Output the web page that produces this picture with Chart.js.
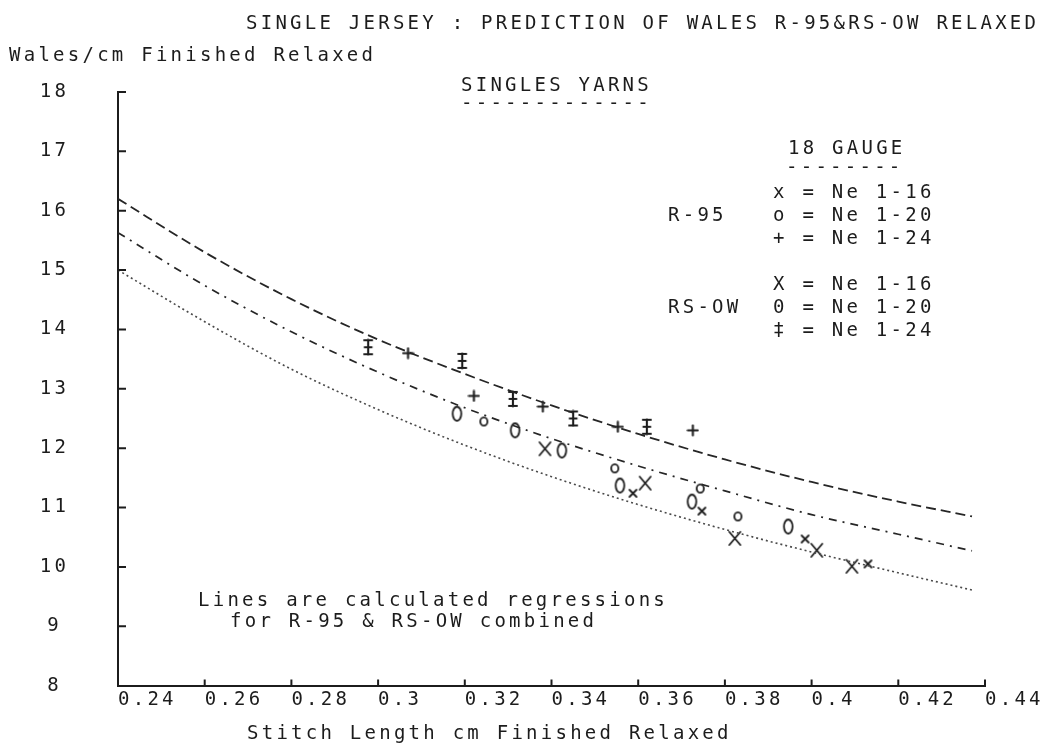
<!DOCTYPE html>
<html>
<head>
<meta charset="utf-8">
<title>Single Jersey wales prediction</title>
<script src="https://cdn.jsdelivr.net/npm/chart.js@4.4.1/dist/chart.umd.min.js"></script>
<style>
  html, body { margin: 0; padding: 0; background: #fff; }
  #wrap { width: 1045px; height: 749px; }
</style>
</head>
<body>
<div id="wrap"><canvas id="walesChart" width="1045" height="749"></canvas></div>
<script>
// axis ticks
var xTicks = [0.24, 0.26, 0.28, 0.30, 0.32, 0.34, 0.36, 0.38, 0.40, 0.42, 0.44];
var xTickLabels = ['0.24', '0.26', '0.28', '0.3', '0.32', '0.34', '0.36', '0.38', '0.4', '0.42', '0.44'];
var yTicks = [8, 9, 10, 11, 12, 13, 14, 15, 16, 17, 18];
var yTickLabels = ['8', '9', '10', '11', '12', '13', '14', '15', '16', '17', '18'];

// regression lines (R-95 & RS-OW combined)
var regX       = [0.24, 0.26, 0.28, 0.30, 0.32, 0.34, 0.36, 0.38, 0.40, 0.42, 0.437];
var regUpper   = [16.20, 15.30, 14.51, 13.83, 13.25, 12.72, 12.24, 11.81, 11.43, 11.10, 10.85];
var regMiddle  = [15.63, 14.74, 13.96, 13.28, 12.68, 12.16, 11.70, 11.28, 10.88, 10.55, 10.27];
var regLower   = [15.00, 14.13, 13.33, 12.65, 12.05, 11.52, 11.05, 10.63, 10.25, 9.90, 9.61];

// R-95 measurements
var r95Ne16X = [0.3588, 0.3747, 0.3985, 0.4130];
var r95Ne16Y = [11.24, 10.94, 10.47, 10.05];
var r95Ne20X = [0.3244, 0.3546, 0.3743, 0.3830];
var r95Ne20Y = [12.45, 11.66, 11.32, 10.85];
var r95Ne24X = [0.3069, 0.3221, 0.3380, 0.3553, 0.3726];
var r95Ne24Y = [13.60, 12.88, 12.70, 12.36, 12.30];

// RS-OW measurements
var rsNe16X = [0.3385, 0.3616, 0.3823, 0.4012, 0.4093];
var rsNe16Y = [11.99, 11.41, 10.48, 10.28, 10.01];
var rsNe20X = [0.3182, 0.3316, 0.3424, 0.3558, 0.3724, 0.3946];
var rsNe20Y = [12.58, 12.30, 11.96, 11.37, 11.10, 10.68];
var rsNe24X = [0.2977, 0.3194, 0.3311, 0.3450, 0.3620];
var rsNe24Y = [13.70, 13.47, 12.83, 12.50, 12.36];

var INK = '#1c1c1c';
var FAMILY = '"DejaVu Sans Mono", "Liberation Mono", monospace';
var FONT_SIZE = 19;
var LETTER_GAP = '3.25px';

function pairs(xs, ys){
    return xs.map(function(x, i){ return {x: x, y: ys[i]}; });
}

// plotter style symbols
function marker(w, h, draw){
    var c = document.createElement('canvas');
    c.width = w; c.height = h;
    var g = c.getContext('2d');
    g.strokeStyle = INK;
    g.lineWidth = 1.8;
    g.lineCap = 'round';
    draw(g, w, h);
    return c;
}
var smallX = marker(11, 11, function(g){
    g.beginPath(); g.moveTo(2, 2); g.lineTo(9, 9); g.moveTo(9, 2); g.lineTo(2, 9); g.stroke();
});
var bigX = marker(15, 17, function(g){
    g.beginPath(); g.moveTo(2, 2); g.lineTo(13, 15); g.moveTo(13, 2); g.lineTo(2, 15); g.stroke();
});
var smallO = marker(11, 12, function(g){
    g.beginPath(); g.ellipse(5.5, 6, 3.6, 4.2, 0, 0, Math.PI * 2); g.stroke();
});
var bigO = marker(13, 18, function(g){
    g.beginPath(); g.ellipse(6.5, 9, 4.3, 7, 0, 0, Math.PI * 2); g.stroke();
});
var plus = marker(13, 13, function(g){
    g.lineWidth = 2.1;
    g.beginPath(); g.moveTo(6.5, 1.5); g.lineTo(6.5, 11.5); g.moveTo(1.5, 6.5); g.lineTo(11.5, 6.5); g.stroke();
});
var dagger = marker(12, 18, function(g){
    g.lineWidth = 2.1;
    g.beginPath();
    g.moveTo(6, 1.5); g.lineTo(6, 16.5);
    g.moveTo(2, 2); g.lineTo(10, 2);
    g.moveTo(2.5, 9); g.lineTo(9.5, 9);
    g.moveTo(2, 16); g.lineTo(10, 16);
    g.stroke();
});

// text blocks around the plot
var notes = [
    {text: 'SINGLE JERSEY : PREDICTION OF WALES R-95&RS-OW RELAXED', x: 246, y: 24},
    {text: 'Wales/cm Finished Relaxed', x: 9, y: 56},
    {text: 'SINGLES YARNS', x: 461, y: 86},
    {text: '-------------', x: 461, y: 104},
    {text: '18 GAUGE', x: 788, y: 149},
    {text: '--------', x: 786, y: 168},
    {text: 'x = Ne 1-16', x: 773, y: 193},
    {text: 'R-95', x: 668, y: 216},
    {text: 'o = Ne 1-20', x: 773, y: 216},
    {text: '+ = Ne 1-24', x: 773, y: 239},
    {text: 'X = Ne 1-16', x: 773, y: 285},
    {text: 'RS-OW', x: 668, y: 308},
    {text: '0 = Ne 1-20', x: 773, y: 308},
    {text: '\u2021 = Ne 1-24', x: 773, y: 331},
    {text: 'Lines are calculated regressions', x: 198, y: 601},
    {text: 'for R-95 & RS-OW combined', x: 230, y: 622},
    {text: 'Stitch Length cm Finished Relaxed', x: 247, y: 734}
];

var decorations = {
    id: 'decorations',
    beforeDraw: function(chart){
        chart.ctx.letterSpacing = LETTER_GAP;
    },
    afterDraw: function(chart){
        var ctx = chart.ctx, area = chart.chartArea;
        var xs = chart.scales.x, ys = chart.scales.y;
        ctx.save();
        // short inward tick marks
        ctx.strokeStyle = INK;
        ctx.lineWidth = 2;
        ctx.beginPath();
        yTicks.forEach(function(v){
            if (v === 8) return;
            var py = ys.getPixelForValue(v);
            ctx.moveTo(area.left, py); ctx.lineTo(area.left + 8, py);
        });
        xTicks.forEach(function(v){
            if (v === 0.24) return;
            var px = xs.getPixelForValue(v);
            ctx.moveTo(px, area.bottom); ctx.lineTo(px, area.bottom - 6);
        });
        ctx.stroke();

        ctx.font = FONT_SIZE + 'px ' + FAMILY;
        ctx.letterSpacing = LETTER_GAP;
        ctx.fillStyle = INK;
        ctx.textAlign = 'left';
        ctx.textBaseline = 'middle';
        notes.forEach(function(n){ ctx.fillText(n.text, n.x, n.y); });
        ctx.restore();
    }
};

function lineSet(ys, dash, color, width){
    return {
        data: pairs(regX, ys),
        showLine: true,
        borderColor: color,
        borderWidth: width,
        borderDash: dash,
        pointRadius: 0,
        cubicInterpolationMode: 'monotone',
        fill: false
    };
}
function pointSet(xs, ys, style){
    return {
        data: pairs(xs, ys),
        showLine: false,
        pointStyle: style,
        pointRadius: 6
    };
}

var tickFont = {family: FAMILY, size: FONT_SIZE};

new Chart(document.getElementById('walesChart'), {
    type: 'scatter',
    data: {
        datasets: [
            lineSet(regUpper, [10, 5], '#262626', 1.8),
            lineSet(regMiddle, [8, 6, 2, 6], '#262626', 1.7),
            lineSet(regLower, [2, 3], '#4a4a4a', 1.6),
            pointSet(r95Ne16X, r95Ne16Y, smallX),
            pointSet(r95Ne20X, r95Ne20Y, smallO),
            pointSet(r95Ne24X, r95Ne24Y, plus),
            pointSet(rsNe16X, rsNe16Y, bigX),
            pointSet(rsNe20X, rsNe20Y, bigO),
            pointSet(rsNe24X, rsNe24Y, dagger)
        ]
    },
    options: {
        responsive: false,
        animation: false,
        events: [],
        layout: {autoPadding: false, padding: {top: 92, right: 60, left: 0, bottom: 0}},
        plugins: {legend: {display: false}, tooltip: {enabled: false}},
        scales: {
            x: {
                type: 'linear', min: 0.24, max: 0.44,
                grid: {display: false, drawTicks: false},
                border: {display: true, color: INK, width: 2},
                afterBuildTicks: function(s){ s.ticks = xTicks.map(function(v){ return {value: v}; }); },
                afterFit: function(s){ s.height = 61; },
                ticks: {
                    align: 'start', padding: 3, color: INK, font: tickFont, maxRotation: 0, autoSkip: false,
                    callback: function(v, i){ return xTickLabels[i]; }
                }
            },
            y: {
                type: 'linear', min: 8, max: 18,
                grid: {display: false, drawTicks: false},
                border: {display: true, color: INK, width: 2},
                afterBuildTicks: function(s){ s.ticks = yTicks.map(function(v){ return {value: v}; }); },
                afterFit: function(s){ s.width = 118; },
                ticks: {
                    crossAlign: 'center', padding: 52, color: INK, font: tickFont, autoSkip: false,
                    callback: function(v, i){ return yTickLabels[i]; }
                }
            }
        }
    },
    plugins: [decorations]
});
</script>
</body>
</html>
